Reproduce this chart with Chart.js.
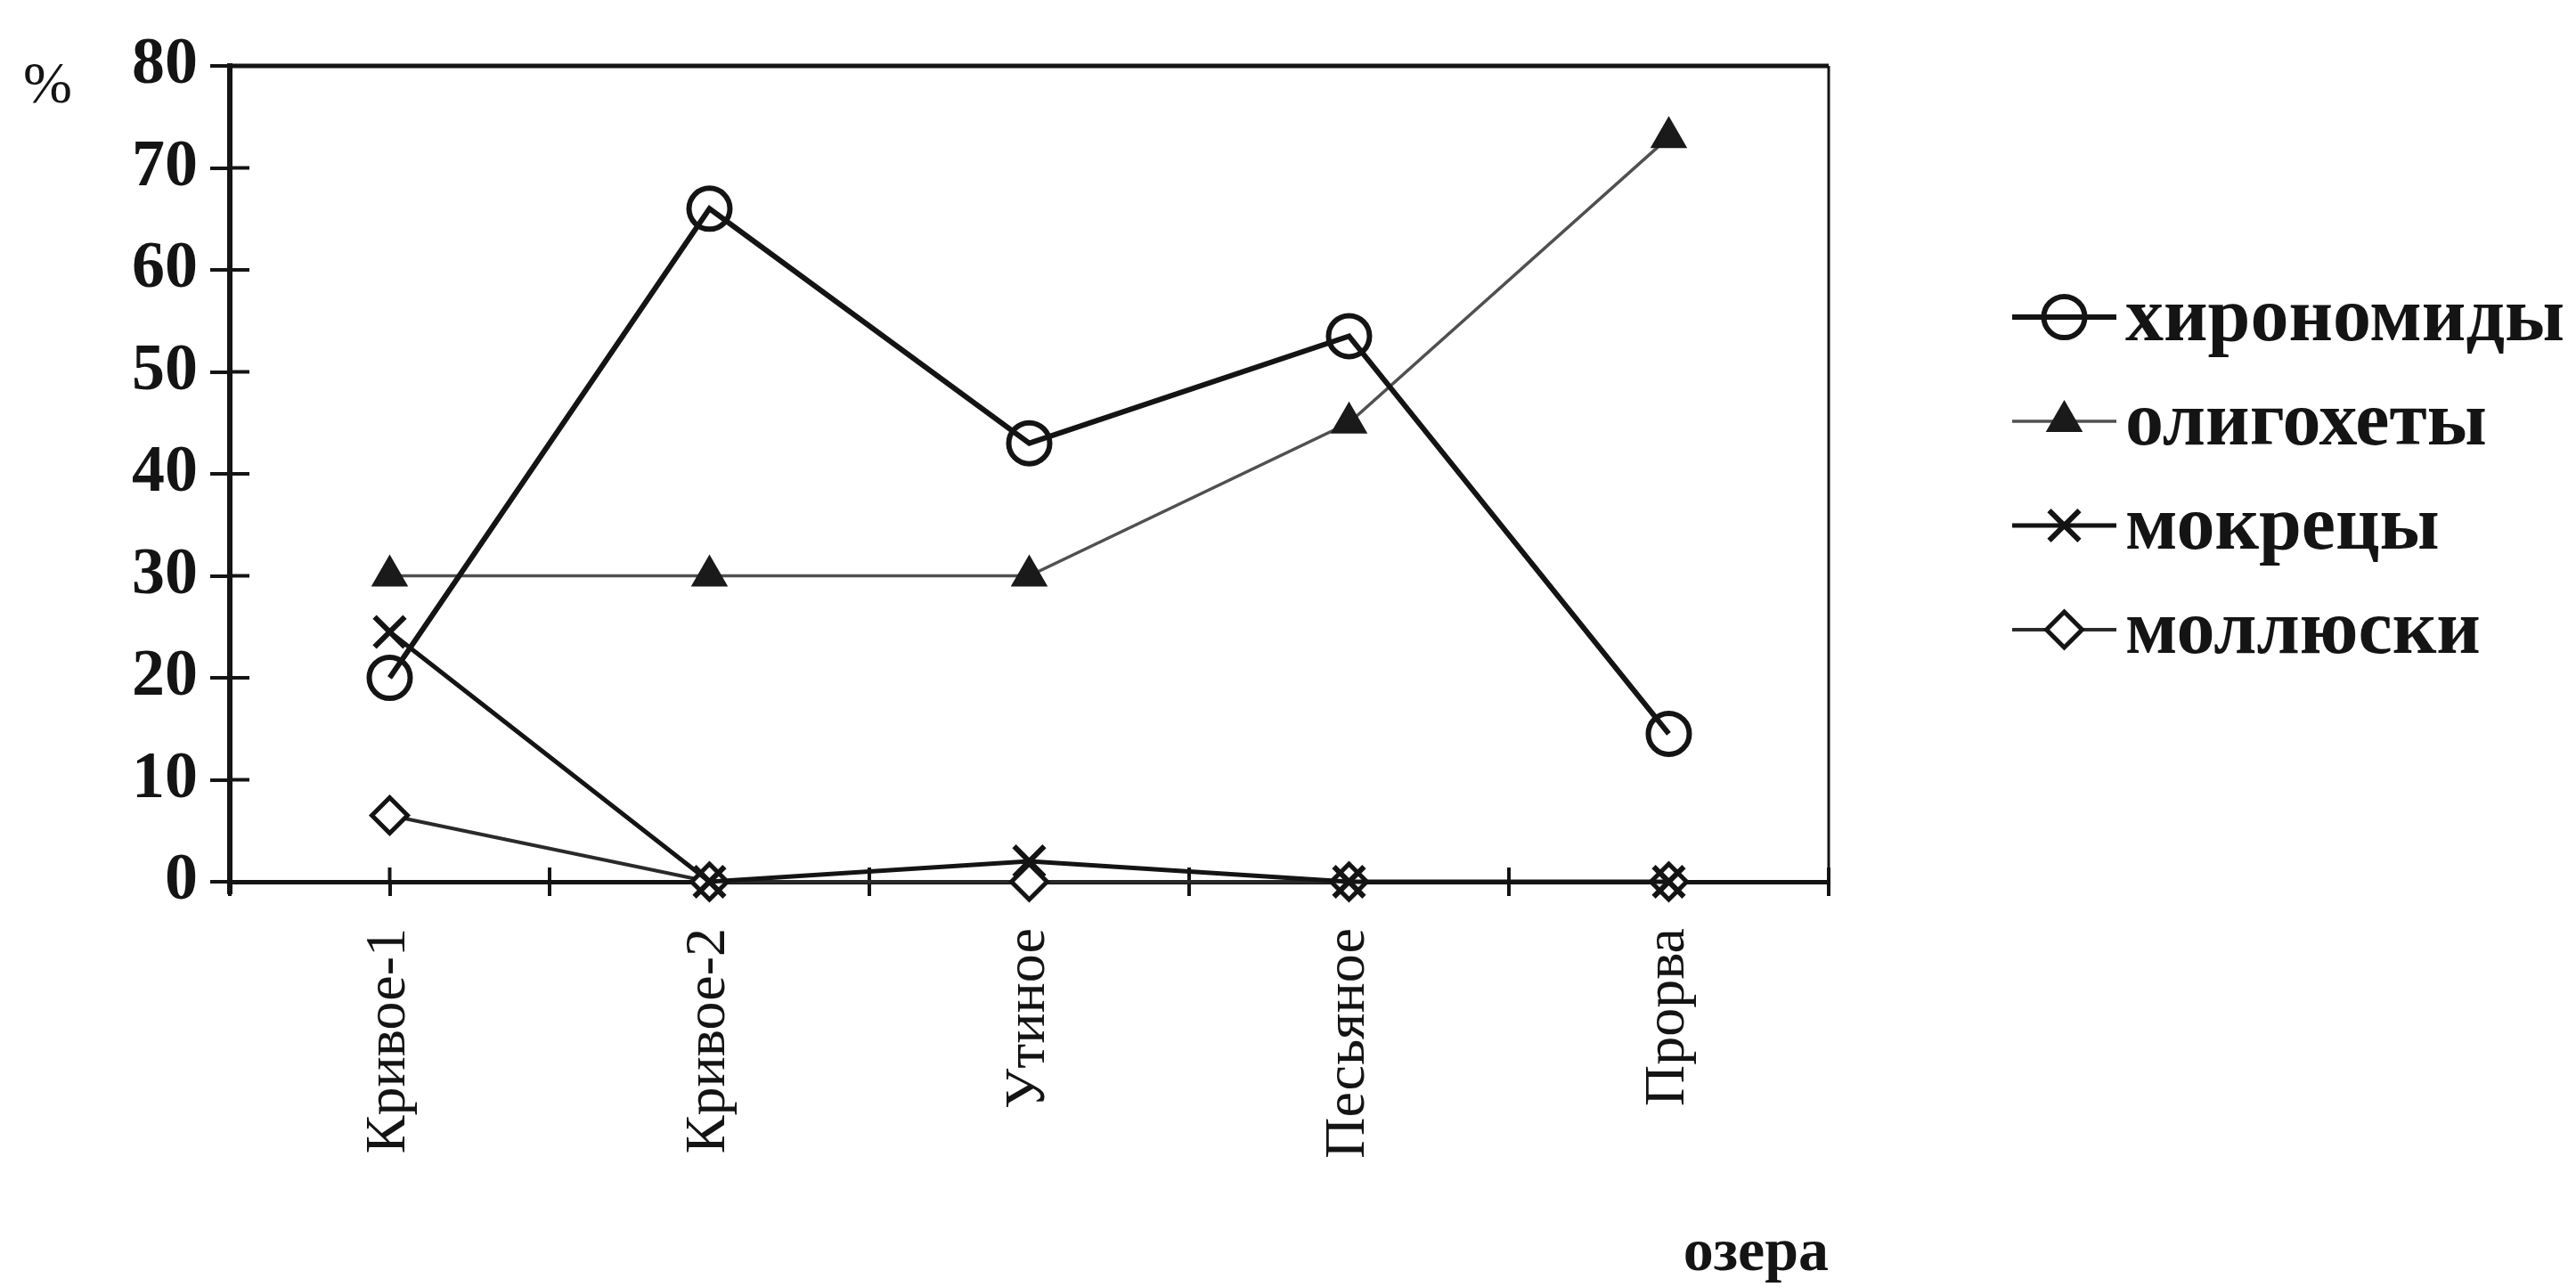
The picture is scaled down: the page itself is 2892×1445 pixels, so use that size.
<!DOCTYPE html>
<html lang="ru">
<head>
<meta charset="utf-8">
<title>Бентос озёр</title>
<script src="https://cdn.jsdelivr.net/npm/chart.js@4.4.1/dist/chart.umd.min.js"></script>
<style>
  html, body { margin: 0; padding: 0; background: #fff; }
  #chart { display: block; }
</style>
</head>
<body>
<canvas id="chart" width="2892" height="1445"></canvas>
<script>
// lakes on the x axis
const lakes = ["Кривое-1", "Кривое-2", "Утиное", "Песьяное", "Прорва"];
const seriesNames = ["хирономиды", "олигохеты", "мокрецы", "моллюски"];
// share of each group, %
const chironomids = [20, 66, 43, 53.5, 14.5];
const oligochaetes = [30, 30, 30, 45, 73];
const ceratopogonids = [24.5, 0, 2, 0, 0];
const molluscs = [6.5, 0, 0, 0, 0];
const yTicks = [0, 10, 20, 30, 40, 50, 60, 70, 80];
const xTitle = "озера";
const yUnit = "%";

const SERIF = '"Liberation Serif", "Times New Roman", serif';
const INK = "#141414";

function points(vals) {
    return vals.map((v, i) => ({ x: i, y: v }));
}

// inner half of the crossing tick marks + top and right frame lines
const frame = {
    id: "frame",
    beforeDatasetsDraw(chart) {
        const { ctx, chartArea: a, scales } = chart;
        ctx.save();
        ctx.strokeStyle = INK;
        ctx.lineWidth = 5;
        ctx.beginPath();
        ctx.moveTo(a.left, a.top);
        ctx.lineTo(a.right, a.top);
        ctx.stroke();
        ctx.lineWidth = 3;
        ctx.beginPath();
        ctx.moveTo(a.right, a.top);
        ctx.lineTo(a.right, a.bottom);
        ctx.stroke();

        ctx.lineWidth = 4;
        scales.y.ticks.forEach((t, i) => {
            const y = scales.y.getPixelForTick(i);
            ctx.beginPath();
            ctx.moveTo(a.left, y);
            ctx.lineTo(a.left + 22, y);
            ctx.stroke();
        });
        scales.x.ticks.forEach((t, i) => {
            const x = scales.x.getPixelForTick(i);
            ctx.beginPath();
            ctx.moveTo(x, a.bottom);
            ctx.lineTo(x, a.bottom - 16);
            ctx.stroke();
        });
        // y axis runs a little past the x axis
        ctx.lineWidth = 6;
        ctx.beginPath();
        ctx.moveTo(a.left, a.bottom);
        ctx.lineTo(a.left, a.bottom + 14);
        ctx.stroke();
        ctx.restore();
    },
    afterDraw(chart) {
        const { ctx, chartArea: a } = chart;
        ctx.save();
        // unit label at the top left
        ctx.fillStyle = INK;
        ctx.font = "66px " + SERIF;
        ctx.textAlign = "left";
        ctx.textBaseline = "middle";
        ctx.fillText(yUnit, 26, a.top + 24);

        // legend: line sample with marker, then name
        const x0 = 2259, x1 = 2376, rowTop = 356, rowStep = 117;
        chart.data.datasets.forEach((ds, i) => {
            const y = rowTop + i * rowStep;
            ctx.strokeStyle = ds.borderColor;
            ctx.lineWidth = ds.borderWidth;
            ctx.beginPath();
            ctx.moveTo(x0, y);
            ctx.lineTo(x1, y);
            ctx.stroke();
            ctx.fillStyle = ds.pointBackgroundColor;
            ctx.strokeStyle = ds.pointBorderColor;
            ctx.lineWidth = ds.pointBorderWidth;
            Chart.helpers.drawPoint(ctx, {
                pointStyle: ds.pointStyle,
                radius: ds.pointRadius,
                rotation: 0,
                borderWidth: ds.pointBorderWidth
            }, (x0 + x1) / 2, y);
            ctx.fillStyle = INK;
            ctx.font = "bold 86px " + SERIF;
            ctx.textAlign = "left";
            ctx.textBaseline = "middle";
            ctx.fillText(ds.label, x1 + 10, y + 4);
        });
        ctx.restore();
    }
};

const datasets = [
    {
        label: seriesNames[0],
        data: points(chironomids),
        clip: false,
        borderColor: INK,
        borderWidth: 6,
        pointStyle: "circle",
        pointRadius: 23,
        pointBorderWidth: 6,
        pointBorderColor: INK,
        pointBackgroundColor: "rgba(0,0,0,0)"
    },
    {
        label: seriesNames[1],
        data: points(oligochaetes),
        clip: false,
        borderColor: "#505050",
        borderWidth: 3.5,
        pointStyle: "triangle",
        pointRadius: 22,
        pointBorderWidth: 2,
        pointBorderColor: "#1a1a1a",
        pointBackgroundColor: "#1a1a1a"
    },
    {
        label: seriesNames[2],
        data: points(ceratopogonids),
        clip: false,
        borderColor: INK,
        borderWidth: 5,
        pointStyle: "crossRot",
        pointRadius: 24,
        pointBorderWidth: 6,
        pointBorderColor: INK,
        pointBackgroundColor: INK
    },
    {
        label: seriesNames[3],
        data: points(molluscs),
        clip: false,
        borderColor: "#2a2a2a",
        borderWidth: 4,
        pointStyle: "rectRot",
        pointRadius: 20,
        pointBorderWidth: 5,
        pointBorderColor: INK,
        pointBackgroundColor: "#fff"
    }
];

new Chart(document.getElementById("chart"), {
    type: "line",
    data: { datasets },
    plugins: [frame],
    options: {
        responsive: false,
        animation: false,
        devicePixelRatio: 1,
        layout: { padding: { top: 74, right: 839, bottom: 0, left: 0 } },
        plugins: {
            legend: { display: false },
            tooltip: { enabled: false }
        },
        elements: { line: { tension: 0 } },
        scales: {
            x: {
                type: "linear",
                min: -0.5,
                max: lakes.length - 0.5,
                afterBuildTicks(scale) {
                    const t = [];
                    for (let v = -0.5; v <= lakes.length - 0.5; v += 0.5) t.push({ value: v });
                    scale.ticks = t;
                },
                afterFit(scale) { scale.height = 455; },
                border: { display: true, color: INK, width: 5 },
                grid: {
                    drawOnChartArea: false,
                    drawTicks: true,
                    tickLength: 16,
                    color: INK,
                    lineWidth: 4
                },
                ticks: {
                    autoSkip: false,
                    minRotation: 90,
                    maxRotation: 90,
                    padding: 36,
                    color: INK,
                    font: { family: SERIF, size: 64 },
                    callback: v => Number.isInteger(v) ? lakes[v] : ""
                },
                title: {
                    display: true,
                    text: xTitle,
                    align: "end",
                    color: INK,
                    font: { family: SERIF, size: 68, weight: "bold" },
                    padding: { top: 0, bottom: -4 }
                }
            },
            y: {
                min: yTicks[0],
                max: yTicks[yTicks.length - 1],
                afterBuildTicks(scale) {
                    scale.ticks = yTicks.map(v => ({ value: v }));
                },
                afterFit(scale) { scale.width = 258; },
                border: { display: true, color: INK, width: 6 },
                grid: {
                    drawOnChartArea: false,
                    drawTicks: true,
                    tickLength: 22,
                    color: INK,
                    lineWidth: 4
                },
                ticks: {
                    padding: 14,
                    color: INK,
                    font: { family: SERIF, size: 74, weight: "bold" }
                }
            }
        }
    }
});
</script>
</body>
</html>
